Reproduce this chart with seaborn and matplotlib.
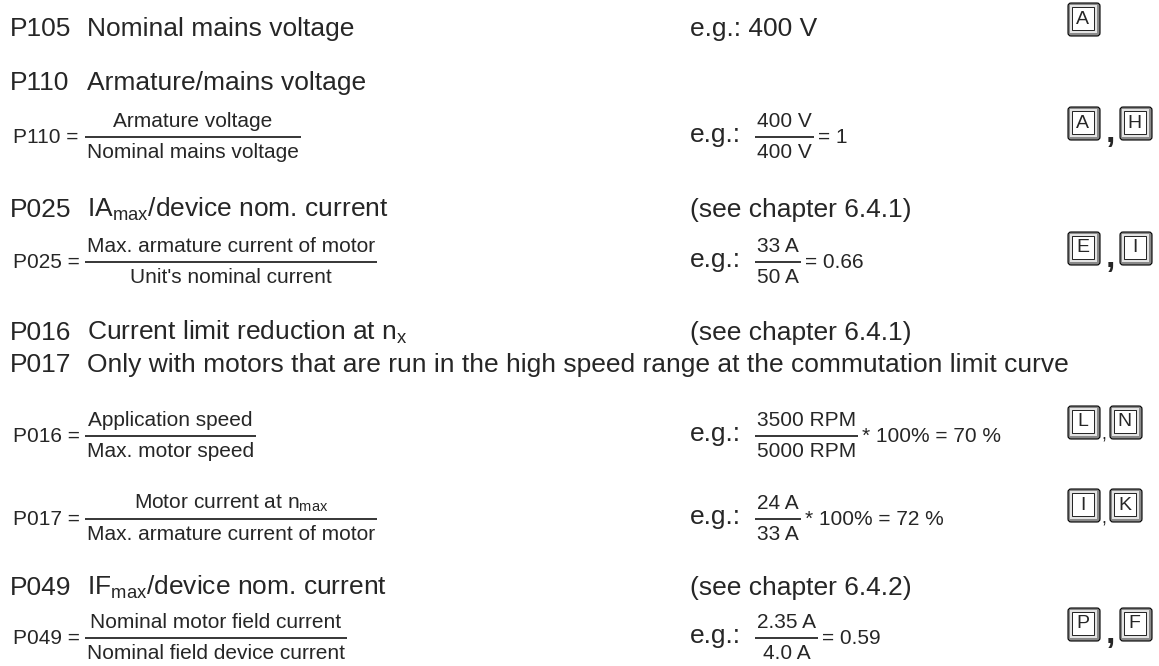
import matplotlib
matplotlib.use("Agg")
import matplotlib.pyplot as plt
import seaborn as sns
from matplotlib.patches import FancyBboxPatch, Rectangle

# parameter headings
codes = ["P105", "P110", "P025", "P016", "P017", "P049"]
titles = ["Nominal mains voltage",
          "Armature/mains voltage",
          r"IA$_{\mathrm{max}}$/device nom. current",
          r"Current limit reduction at n$_{\mathrm{x}}$",
          "Only with motors that are run in the high speed range at the commutation limit curve",
          r"IF$_{\mathrm{max}}$/device nom. current"]
refs = ["", "", "(see chapter 6.4.1)", "(see chapter 6.4.1)", "", "(see chapter 6.4.2)"]
header_y = [36, 90, 217, 340, 372, 595]

# formulas
f_names = ["P110", "P025", "P016", "P017", "P049"]
f_num = ["Armature voltage", "Max. armature current of motor", "Application speed",
         r"Motor current at n$_{\mathrm{max}}$", "Nominal motor field current"]
f_den = ["Nominal mains voltage", "Unit's nominal current", "Max. motor speed",
         "Max. armature current of motor", "Nominal field device current"]
f_y = [137, 262, 436, 519, 638]

# examples
ex_num = ["400 V", "33 A", "3500 RPM", "24 A", "2.35 A"]
ex_den = ["400 V", "50 A", "5000 RPM", "33 A", "4.0 A"]
ex_tail = ["= 1", "= 0.66", "* 100% = 70 %", "* 100% = 72 %", "= 0.59"]
keys = [("A", "H"), ("E", "I"), ("L", "N"), ("I", "K"), ("P", "F")]
big_comma = [True, True, False, False, True]

sns.set_style("white")
plt.rcParams["font.family"] = ["Liberation Sans", "DejaVu Sans"]
plt.rcParams["mathtext.fontset"] = "custom"
plt.rcParams["mathtext.rm"] = "Liberation Sans"
plt.rcParams["mathtext.it"] = "Liberation Sans:italic"

fig = plt.figure(figsize=(11.59, 6.66), dpi=100)
ax = fig.add_axes([0, 0, 1, 1])
ax.set_xlim(0, 1159)
ax.set_ylim(666, 0)
ax.axis("off")
renderer = fig.canvas.get_renderer()

HEAD = 19
SMALL = 15


def width(t):
    return t.get_window_extent(renderer).width


def fraction(x, ybar, num, den, size=SMALL):
    tn = ax.text(0, ybar - 10, num, fontsize=size, ha="center", va="baseline")
    td = ax.text(0, ybar + 21, den, fontsize=size, ha="center", va="baseline")
    w = max(width(tn), width(td)) + 4
    tn.set_x(x + w / 2)
    td.set_x(x + w / 2)
    ax.plot([x, x + w], [ybar, ybar], color="black", lw=1.1, solid_capstyle="butt")
    return x + w


def key(x, ybottom, letter, w=32, h=33):
    y0 = ybottom - h
    ax.add_patch(FancyBboxPatch((x, y0), w, h, boxstyle="round,pad=0,rounding_size=3",
                                fc="#8a8a8a", ec="black", lw=0.8))
    ax.add_patch(Rectangle((x + 1.5, y0 + 1.5), w - 5, h - 5, fc="#e4e4e4", ec="none"))
    ax.add_patch(Rectangle((x + 3.5, y0 + 3.5), w - 10, h - 10, fc="white", ec="black", lw=0.6))
    ax.text(x + 3.5 + (w - 10) / 2, y0 + 3.5 + (h - 10) / 2 + 1, letter, fontsize=14,
            ha="center", va="center")


# headings
for code, title, ref, y in zip(codes, titles, refs, header_y):
    ax.text(10, y, code, fontsize=HEAD, va="baseline")
    ax.text(87, y, title, fontsize=HEAD, va="baseline")
    if ref:
        ax.text(690, y, ref, fontsize=HEAD, va="baseline")

# first line example
ax.text(690, header_y[0], "e.g.: 400 V", fontsize=HEAD, va="baseline")
key(1068, header_y[0], "A")

# formulas and examples
for i, name in enumerate(f_names):
    yb = f_y[i]
    ax.text(13, yb + 6, name + " =", fontsize=SMALL, va="baseline")
    fraction(85, yb, f_num[i], f_den[i])
    ax.text(690, yb + 5, "e.g.:", fontsize=HEAD, va="baseline")
    xe = fraction(755, yb, ex_num[i], ex_den[i])
    ax.text(xe + 4, yb + 6, ex_tail[i], fontsize=SMALL, va="baseline")
    k1, k2 = keys[i]
    yk = yb + 3
    if big_comma[i]:
        key(1068, yk, k1)
        ax.text(1110, yk + 2, ",", fontsize=24, fontweight="bold", ha="center", va="baseline")
        key(1120, yk, k2)
    else:
        key(1068, yk, k1)
        ax.text(1104, yk + 1, ",", fontsize=13, ha="center", va="baseline")
        key(1110, yk, k2)

fig.savefig("out.png", dpi=100, facecolor="white")
